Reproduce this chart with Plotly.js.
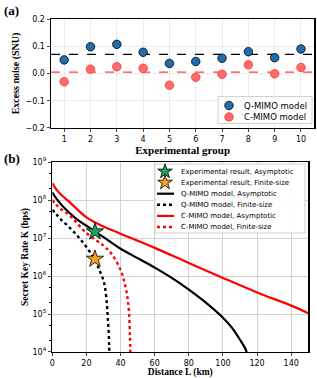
<!DOCTYPE html>
<html><head><meta charset="utf-8">
<script src="https://cdn.plot.ly/plotly-3.0.1.min.js"></script>
<style>html,body{margin:0;padding:0;background:#fff}#c{width:317px;height:378px}</style>
</head><body><div id="c"></div>
<script>
// Panel (a)
var groups = [1,2,3,4,5,6,7,8,9,10];
var qNoise = [0.050,0.098,0.107,0.078,0.037,0.044,0.056,0.080,0.058,0.090];
var cNoise = [-0.030,0.016,0.025,0.019,-0.043,-0.014,-0.003,0.032,-0.001,0.022];
var qRef = 0.070;
var cRef = 0.005;
// Panel (b)
var dQA = [0,2,5,10,15,20,25,30,40,50,60,70,80,90,100,105,110,113,114.5];
var kQA = [1.6e8,1.15e8,7.8e7,4.6e7,2.95e7,2.1e7,1.48e7,1.05e7,5.2e6,2.95e6,1.66e6,8.9e5,4.4e5,2.0e5,8.0e4,4.5e4,2.1e4,1.25e4,8.0e3];
var dQF = [0,2,5,10,15,20,25,28,30,31,32,32.5,33,33.3,33.5];
var kQF = [5.5e7,4.4e7,3.1e7,1.9e7,1.1e7,5.8e6,2.6e6,1.3e6,7.6e5,4.6e5,1.8e5,8.0e4,3.7e4,1.5e4,8.0e3];
var dCA = [0,2,5,10,20,30,40,60,80,100,120,140,150];
var kCA = [2.8e8,2.0e8,1.4e8,8.9e7,3.5e7,2.0e7,1.3e7,5.5e6,2.2e6,8.9e5,3.7e5,1.66e5,1.05e5];
var dCF = [0,2,5,10,20,30,35,40,42,44,45,45.5,45.8];
var kCF = [1.0e8,7.8e7,5.8e7,4.0e7,1.35e7,6.3e6,3.7e6,1.45e6,7.6e5,2.8e5,1.0e5,2.5e4,8.0e3];
var expD = [25];
var expAsym = [1.47e7];
var expFin = [2.8e6];
var logTicks = [4,5,6,7,8,9];
var logTickText = ['10<sup>4</sup>','10<sup>5</sup>','10<sup>6</sup>','10<sup>7</sup>','10<sup>8</sup>','10<sup>9</sup>'];
var legendA = ['Q-MIMO model','C-MIMO model'];
var legendB = ['Experimental result, Asymptotic','Experimental result, Finite-size','Q-MIMO model, Asymptotic','Q-MIMO model, Finite-size','C-MIMO model, Asymptotic','C-MIMO model, Finite-size'];

var qMarker = {size:8.5,color:'#1f6fb0',line:{color:'black',width:0.8}};
var cMarker = {size:8.5,color:'#ff6b6b',line:{color:'#ff3030',width:0.8}};
var gMarker = {symbol:'star',size:13,color:'#1f9e5e',line:{color:'black',width:0.8}};
var oMarker = {symbol:'star',size:13,color:'#f5a023',line:{color:'black',width:0.8}};
var gMarkerL = {symbol:'star',size:11,color:'#1f9e5e',line:{color:'black',width:0.8}};
var oMarkerL = {symbol:'star',size:11,color:'#f5a023',line:{color:'black',width:0.8}};
var qaLine = {color:'black',width:2.2};
var qfLine = {color:'black',width:2.4,dash:'dot'};
var caLine = {color:'#ff0000',width:2.2};
var cfLine = {color:'#ff0000',width:2.4,dash:'dot'};

function sp(l){ var o={}; for (var k in l) o[k]=l[k]; o.shape='spline'; return o; }

var traces = [
 {x:[0.5,10.5], y:[qRef,qRef], mode:'lines', line:{color:'black',dash:'dash',width:1.3}, xaxis:'x', yaxis:'y'},
 {x:[0.5,10.5], y:[cRef,cRef], mode:'lines', line:{color:'#ff4040',dash:'dash',width:1.3}, xaxis:'x', yaxis:'y'},
 {x:groups, y:qNoise, mode:'markers', marker:qMarker, xaxis:'x', yaxis:'y'},
 {x:groups, y:cNoise, mode:'markers', marker:cMarker, xaxis:'x', yaxis:'y'},
 {x:dQA, y:kQA, mode:'lines', line:sp(qaLine), xaxis:'x2', yaxis:'y2'},
 {x:dQF, y:kQF, mode:'lines', line:sp(qfLine), xaxis:'x2', yaxis:'y2'},
 {x:dCA, y:kCA, mode:'lines', line:sp(caLine), xaxis:'x2', yaxis:'y2'},
 {x:dCF, y:kCF, mode:'lines', line:sp(cfLine), xaxis:'x2', yaxis:'y2'},
 {x:expD, y:expAsym, mode:'markers', marker:gMarker, xaxis:'x2', yaxis:'y2'},
 {x:expD, y:expFin, mode:'markers', marker:oMarker, xaxis:'x2', yaxis:'y2'}
];

// Legends drawn on a pixel-coordinate overlay axis (x3/y3)
var boxA = {x0:218, x1:312, y0:96.5, y1:123.5};
var boxB = {x0:155, x1:305, y0:164, y1:233};
function boxTrace(b){ return {x:[b.x0,b.x1,b.x1,b.x0,b.x0], y:[b.y0,b.y0,b.y1,b.y1,b.y0], mode:'lines', fill:'toself', fillcolor:'rgba(255,255,255,0.92)', line:{color:'#d0d0d0',width:1}, xaxis:'x3', yaxis:'y3'}; }
traces.push(boxTrace(boxA));
traces.push(boxTrace(boxB));
var rowsA = [105.5, 117];
traces.push({x:[229], y:[rowsA[0]], mode:'markers', marker:qMarker, xaxis:'x3', yaxis:'y3'});
traces.push({x:[229], y:[rowsA[1]], mode:'markers', marker:cMarker, xaxis:'x3', yaxis:'y3'});
var rowsB = [171.5, 182.6, 193.7, 204.8, 215.9, 227];
traces.push({x:[165], y:[rowsB[0]], mode:'markers', marker:gMarkerL, xaxis:'x3', yaxis:'y3'});
traces.push({x:[165], y:[rowsB[1]], mode:'markers', marker:oMarkerL, xaxis:'x3', yaxis:'y3'});
var bLines = [qaLine,qfLine,caLine,cfLine];
for (var i=0;i<4;i++) traces.push({x:[157,174], y:[rowsB[i+2],rowsB[i+2]], mode:'lines', line:bLines[i], xaxis:'x3', yaxis:'y3'});

var annotations = [
  {text:'<b>(a)</b>', xref:'paper', yref:'paper', x:0.005, y:0.998, xanchor:'left', yanchor:'top', showarrow:false, font:{family:'Liberation Serif', size:13, color:'black'}},
  {text:'<b>(b)</b>', xref:'paper', yref:'paper', x:0.005, y:0.605, xanchor:'left', yanchor:'top', showarrow:false, font:{family:'Liberation Serif', size:13, color:'black'}}
];
for (var j=0;j<legendA.length;j++) annotations.push({text:legendA[j], xref:'x3', yref:'y3', x:242, y:rowsA[j], xanchor:'left', yanchor:'middle', showarrow:false, font:{family:'DejaVu Sans', size:8.5, color:'black'}});
for (var j=0;j<legendB.length;j++) annotations.push({text:legendB[j], xref:'x3', yref:'y3', x:179, y:rowsB[j], xanchor:'left', yanchor:'middle', showarrow:false, font:{family:'DejaVu Sans', size:7, color:'black'}});

var tickFont = {family:'DejaVu Sans', size:8, color:'black'};
var layout = {
 width:317, height:378, margin:{l:0,r:0,t:0,b:0}, paper_bgcolor:'white', plot_bgcolor:'rgba(0,0,0,0)', showlegend:false,
 xaxis:{domain:[0.161,0.991], anchor:'y', range:[0.5,10.5], tickvals:groups, ticks:'outside', ticklen:3, tickfont:tickFont,
   showgrid:true, gridcolor:'#e6e6e6', gridwidth:0.8, zeroline:false, showline:true, linecolor:'black', linewidth:1.5, mirror:true,
   title:{text:'<b>Experimental group</b>', font:{family:'Liberation Serif',size:11,color:'black'}, standoff:2}},
 yaxis:{domain:[0.6614,0.9497], anchor:'x', range:[-0.2,0.2], tickvals:[-0.2,-0.1,0,0.1,0.2], ticktext:['\u22120.2','\u22120.1','0.0','0.1','0.2'],
   ticks:'outside', ticklen:3, tickfont:tickFont, showgrid:true, gridcolor:'#e6e6e6', gridwidth:0.8, zeroline:false,
   showline:true, linecolor:'black', linewidth:1.5, mirror:true,
   title:{text:'<b>Excess noise (SNU)</b>', font:{family:'Liberation Serif',size:10,color:'black'}, standoff:4}},
 xaxis2:{domain:[0.165,0.9725], anchor:'y2', range:[0,150], tickvals:[0,20,40,60,80,100,120,140], ticks:'outside', ticklen:3, tickfont:tickFont,
   showgrid:true, gridcolor:'#c8c8c8', gridwidth:0.8, zeroline:false, showline:true, linecolor:'black', linewidth:1.5, mirror:true,
   title:{text:'<b>Distance L (km)</b>', font:{family:'Liberation Serif',size:9.5,color:'black'}, standoff:0}},
 yaxis2:{domain:[0.0688,0.5714], anchor:'x2', type:'log', range:[4,9], tickvals:logTicks.map(function(v){return Math.pow(10,v);}), ticktext:logTickText,
   ticks:'outside', ticklen:3, tickfont:tickFont, showgrid:true, gridcolor:'#c8c8c8', gridwidth:0.8, zeroline:false,
   showline:true, linecolor:'black', linewidth:1.5, mirror:true,
   minor:{ticks:'outside', ticklen:1.5, tickcolor:'black', showgrid:false},
   title:{text:'<b>Secret Key Rate K (bps)</b>', font:{family:'Liberation Serif',size:9.5,color:'black'}, standoff:2}},
 xaxis3:{domain:[0,1], anchor:'y3', range:[0,317], visible:false, fixedrange:true},
 yaxis3:{domain:[0,1], anchor:'x3', range:[378,0], visible:false, fixedrange:true},
 annotations:annotations
};
traces.forEach(function(t){ t.showlegend=false; t.hoverinfo='skip'; });
Plotly.newPlot('c', traces, layout, {staticPlot:true, displayModeBar:false});
</script></body></html>
